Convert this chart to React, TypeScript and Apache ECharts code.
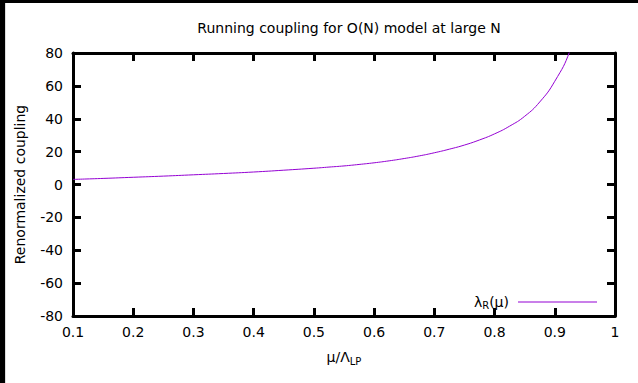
import React, { useEffect, useRef } from "react";
import * as echarts from "echarts";

const muValues = [0.1, 0.15, 0.2, 0.25, 0.3, 0.35, 0.4, 0.45, 0.5, 0.525, 0.55, 0.575, 0.6, 0.625, 0.65, 0.675, 0.7, 0.725, 0.75, 0.775, 0.8, 0.825, 0.85, 0.875, 0.9, 0.925, 0.95];
const couplingValues = [3.1, 3.7, 4.4, 5.1, 5.9, 6.7, 7.6, 8.7, 9.9, 10.6, 11.3, 12.2, 13.2, 14.4, 15.8, 17.4, 19.3, 21.5, 24.0, 27.1, 30.8, 35.5, 41.5, 50.2, 62.8, 81.2, 112.0];
const xTicks = { min: 0.1, max: 1, interval: 0.1 };
const yTicks = { min: -80, max: 80, interval: 20 };

const FONT = "DejaVu Sans";
const FS = 14;

export default function App() {
  const ref = useRef<HTMLDivElement>(null);
  useEffect(() => {
    if (!ref.current) return;
    const chart = echarts.init(ref.current, undefined, { renderer: "svg" });
    const data = muValues.map((m, i) => [m, couplingValues[i]]);
    const axisLine = { show: true, onZero: false, lineStyle: { color: "#000", width: 3 } };
    const axisTick = { show: true, inside: true, length: 8, lineStyle: { color: "#000", width: 3 } };
    chart.setOption({
      animation: false,
      backgroundColor: "#fff",
      textStyle: { fontFamily: FONT },
      title: {
        text: "Running coupling for O(N) model at large N",
        left: 344,
        textAlign: "center",
        top: 16,
        textStyle: { fontFamily: FONT, fontSize: FS, fontWeight: "normal", color: "#000" },
      },
      grid: { left: 73, top: 53, right: 23, bottom: 67 },
      legend: {
        right: 36,
        top: 290,
        align: "right",
        itemWidth: 79,
        itemHeight: 14,
        icon: "path://M0,7 L79,7 L79,8 L0,8 Z",
        textStyle: {
          fontFamily: FONT,
          fontSize: FS,
          color: "#000",
          padding: [0, 4, 0, 0],
          rich: {
            a: { fontFamily: FONT, fontSize: FS, color: "#000" },
            s: { fontFamily: FONT, fontSize: 10, color: "#000", padding: [7, 0, 0, 0] },
          },
        },
        formatter: () => "{a|λ}{s|R}{a|(μ)}",
        data: [{ name: "lambda", itemStyle: { color: "#9400d3" } }],
      },
      xAxis: [
        {
          type: "value",
          min: xTicks.min,
          max: xTicks.max,
          interval: xTicks.interval,
          position: "bottom",
          axisLine,
          axisTick,
          splitLine: { show: false },
          axisLabel: {
            color: "#000",
            fontFamily: FONT,
            fontSize: FS,
            margin: 9,
            formatter: (v: number) => String(+v.toFixed(1)),
          },
          name: "{a|μ/Λ}{s|LP}",
          nameLocation: "middle",
          nameGap: 32,
          nameTextStyle: {
            rich: {
              a: { fontFamily: FONT, fontSize: FS, color: "#000" },
              s: { fontFamily: FONT, fontSize: 10, color: "#000", padding: [8, 0, 0, 0] },
            },
          },
        },
        {
          type: "value",
          min: xTicks.min,
          max: xTicks.max,
          interval: xTicks.interval,
          position: "top",
          axisLine,
          axisTick,
          splitLine: { show: false },
          axisLabel: { show: false },
        },
      ],
      yAxis: [
        {
          type: "value",
          min: yTicks.min,
          max: yTicks.max,
          interval: yTicks.interval,
          position: "left",
          axisLine,
          axisTick,
          splitLine: { show: false },
          axisLabel: { color: "#000", fontFamily: FONT, fontSize: FS, margin: 10 },
          name: "Renormalized coupling",
          nameLocation: "middle",
          nameGap: 46,
          nameTextStyle: { fontFamily: FONT, fontSize: FS, color: "#000" },
        },
        {
          type: "value",
          min: yTicks.min,
          max: yTicks.max,
          interval: yTicks.interval,
          position: "right",
          axisLine,
          axisTick,
          splitLine: { show: false },
          axisLabel: { show: false },
        },
      ],
      series: [
        {
          name: "lambda",
          type: "line",
          data,
          smooth: true,
          symbol: "none",
          clip: true,
          lineStyle: { color: "#9400d3", width: 1 },
          itemStyle: { color: "#9400d3" },
        },
      ],
      graphic: [
        { type: "rect", shape: { x: 0, y: 0, width: 5, height: 383 }, style: { fill: "#000" }, z: 100 },
        { type: "rect", shape: { x: 0, y: 0, width: 638, height: 3 }, style: { fill: "#000" }, z: 100 },
        { type: "rect", shape: { x: 5, y: 3, width: 1, height: 380 }, style: { fill: "#ddd" }, z: 100 },
      ],
    });
    return () => chart.dispose();
  }, []);
  return (
    <div style={{ position: "fixed", left: 0, top: 0, width: 638, height: 383 }}>
      <div ref={ref} style={{ width: 638, height: 383 }} />
    </div>
  );
}
